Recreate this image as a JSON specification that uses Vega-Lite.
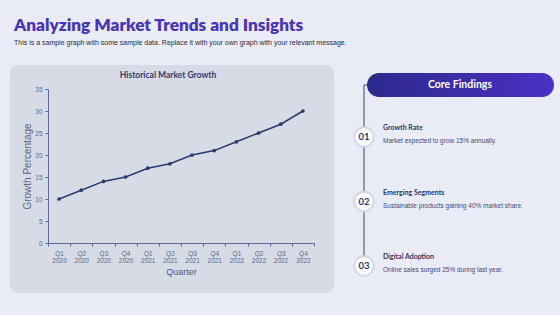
{
  "$schema": "https://vega.github.io/schema/vega-lite/v6.json",
  "background": "#e9ecf7",
  "padding": {"left": 10, "top": 16, "right": 5, "bottom": 24},
  "title": {
    "text": "Analyzing Market Trends and Insights",
    "subtitle": "This is a sample graph with some sample data. Replace it with your own graph with your relevant message.",
    "anchor": "start",
    "dx": 4,
    "font": "Lato",
    "fontSize": 17.2,
    "fontWeight": 800,
    "color": "#4a34b6",
    "subtitleFont": "Liberation Sans",
    "subtitleFontSize": 7,
    "subtitleColor": "#2a2a3a",
    "subtitlePadding": 5,
    "offset": 19
  },
  "spacing": 16,
  "hconcat": [
    {
      "width": 324,
      "height": 228,
      "view": {"fill": "#d6dbe6", "cornerRadius": 8, "stroke": null},
      "title": {
        "text": "Historical Market Growth",
        "offset": -14,
        "anchor": "middle",
        "dx": -4,
        "font": "Lato",
        "fontSize": 8.5,
        "fontWeight": "bold",
        "color": "#2e3a6c"
      },
      "data": {
        "values": [
          {"quarter": "Q1 2020", "growth": 10},
          {"quarter": "Q2 2020", "growth": 12},
          {"quarter": "Q3 2020", "growth": 14},
          {"quarter": "Q4 2020", "growth": 15},
          {"quarter": "Q1 2021", "growth": 17},
          {"quarter": "Q2 2021", "growth": 18},
          {"quarter": "Q3 2021", "growth": 20},
          {"quarter": "Q4 2021", "growth": 21},
          {"quarter": "Q1 2022", "growth": 23},
          {"quarter": "Q2 2022", "growth": 25},
          {"quarter": "Q3 2022", "growth": 27},
          {"quarter": "Q4 2022", "growth": 30}
        ]
      },
      "encoding": {
        "x": {
          "field": "quarter",
          "type": "ordinal",
          "sort": null,
          "scale": {"type": "band", "range": [38, 304], "paddingInner": 0, "paddingOuter": 0},
          "axis": {
            "orient": "bottom",
            "offset": -50,
            "tickBand": "extent",
            "labelAngle": 0,
            "labelExpr": "split(datum.label, ' ')",
            "labelFont": "Liberation Sans",
            "labelFontSize": 6.5,
            "labelColor": "#5d6688",
            "labelLineHeight": 7.5,
            "labelPadding": 4,
            "domainColor": "#5d6690",
            "tickColor": "#5d6690",
            "tickSize": 3,
            "grid": false,
            "title": "Quarter",
            "titleFont": "Liberation Sans",
            "titleFontSize": 9,
            "titleFontWeight": "normal",
            "titleColor": "#4d5780",
            "titlePadding": 3
          }
        },
        "y": {
          "field": "growth",
          "type": "quantitative",
          "scale": {"domain": [0, 35], "range": [178, 24], "nice": false, "zero": true},
          "axis": {
            "orient": "left",
            "offset": -38,
            "values": [0, 5, 10, 15, 20, 25, 30, 35],
            "labelFont": "Liberation Sans",
            "labelFontSize": 6.5,
            "labelColor": "#5d6688",
            "labelPadding": 3,
            "domainColor": "#5d6690",
            "tickColor": "#5d6690",
            "tickSize": 3,
            "grid": false,
            "title": "Growth Percentage",
            "titleFont": "Liberation Sans",
            "titleFontSize": 10,
            "titleFontWeight": "normal",
            "titleColor": "#5d6688",
            "titlePadding": 2
          }
        }
      },
      "layer": [
        {"mark": {"type": "line", "color": "#2b3a6e", "strokeWidth": 1.5}},
        {"mark": {"type": "point", "filled": true, "size": 14, "color": "#2b3a6e", "opacity": 1}}
      ]
    },
    {
      "width": 205,
      "height": 228,
      "view": {"stroke": null},
      "layer": [
        {
          "data": {"values": [{"label": "Core Findings"}]},
          "mark": {"type": "rule", "color": "#5a5f85", "strokeWidth": 1.2},
          "encoding": {"x": {"value": 11}, "y": {"value": 20}, "y2": {"value": 198}}
        },
        {
          "data": {"values": [{"label": "Core Findings"}]},
          "mark": {"type": "rule", "color": "#5a5f85", "strokeWidth": 1.2},
          "encoding": {"x": {"value": 11}, "x2": {"value": 15}, "y": {"value": 20}}
        },
        {
          "data": {"values": [{"label": "Core Findings"}]},
          "mark": {
            "type": "rect",
            "cornerRadius": 12,
            "color": {
              "gradient": "linear", "x1": 0, "x2": 1, "y1": 0, "y2": 0,
              "stops": [{"offset": 0, "color": "#2c2a8c"}, {"offset": 1, "color": "#4c30c4"}]
            }
          },
          "encoding": {"x": {"value": 14}, "x2": {"value": 201}, "y": {"value": 8}, "y2": {"value": 32}}
        },
        {
          "data": {"values": [{"label": "Core Findings"}]},
          "mark": {"type": "text", "color": "#ffffff", "font": "Lato", "fontSize": 10.5, "fontWeight": "bold", "align": "center", "baseline": "middle"},
          "encoding": {"x": {"value": 107}, "y": {"value": 20}, "text": {"field": "label"}}
        },
        {
          "data": {"name": "findings", "values": [
            {"num": "01", "heading": "Growth Rate", "desc": "Market expected to grow 15% annually."},
            {"num": "02", "heading": "Emerging Segments", "desc": "Sustainable products gaining 40% market share."},
            {"num": "03", "heading": "Digital Adoption", "desc": "Online sales surged 25% during last year."}
          ]},
          "encoding": {
            "y": {"field": "num", "type": "ordinal", "scale": {"type": "point", "range": [72, 201], "padding": 0}, "axis": null}
          },
          "layer": [
            {
              "mark": {"type": "point", "shape": "circle", "filled": true, "size": 380, "fill": "#ffffff", "stroke": "#d3d7e6", "strokeWidth": 2, "opacity": 1},
              "encoding": {"x": {"value": 11}}
            },
            {
              "mark": {"type": "text", "font": "Lato", "fontSize": 9.5, "fontWeight": "bold", "color": "#2b3566", "align": "center", "baseline": "middle"},
              "encoding": {"x": {"value": 11}, "text": {"field": "num"}}
            },
            {
              "mark": {"type": "text", "font": "Lato", "fontSize": 7, "fontWeight": "bold", "color": "#2b3566", "align": "left", "baseline": "middle", "dy": -9},
              "encoding": {"x": {"value": 30}, "text": {"field": "heading"}}
            },
            {
              "mark": {"type": "text", "font": "Liberation Sans", "fontSize": 6.5, "color": "#3d4878", "align": "left", "baseline": "middle", "dy": 4},
              "encoding": {"x": {"value": 30}, "text": {"field": "desc"}}
            }
          ]
        }
      ]
    }
  ]
}
